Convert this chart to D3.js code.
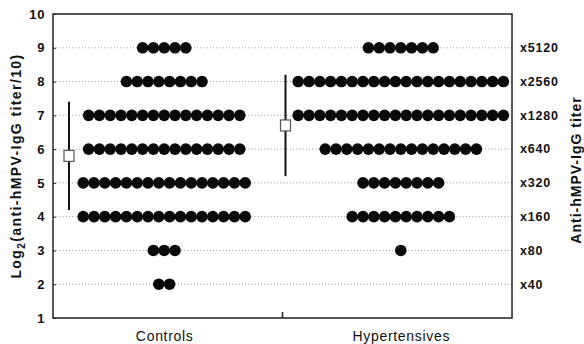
<!DOCTYPE html>
<html>
<head>
<meta charset="utf-8">
<script src="https://cdn.jsdelivr.net/npm/d3@7"></script>
<style>
  body { margin: 0; background: #fff; }
  svg text { font-family: "Liberation Sans", Arial, sans-serif; fill: #111; }
</style>
</head>
<body>
<div id="chart"></div>
<script>
// values
const groups = ['Controls', 'Hypertensives'];
const levels = [2, 3, 4, 5, 6, 7, 8, 9];                 // log2(titer/10)
const controlsCounts = [2, 3, 16, 16, 15, 15, 8, 5];
const hypertensivesCounts = [0, 1, 10, 8, 15, 20, 20, 7];
const titerLabels = ['x40', 'x80', 'x160', 'x320', 'x640', 'x1280', 'x2560', 'x5120'];
const groupMeans = [5.8, 6.7];
const groupSDs = [1.6, 1.5];
const yTicks = [1, 2, 3, 4, 5, 6, 7, 8, 9, 10];

const width = 584, height = 344;
const margin = { top: 14, right: 72, bottom: 26, left: 53 };
const x0 = margin.left, x1 = width - margin.right, y0 = margin.top, y1 = height - margin.bottom;

const svg = d3.select('#chart').append('svg')
  .attr('width', width)
  .attr('height', height);

const y = d3.scaleLinear().domain([1, 10]).range([y1, y0]);
const x = d3.scalePoint().domain(groups).range([x0, x1]).padding(0.47);

const dotR = 5.8, dotStep = 10.8;
const counts = [controlsCounts, hypertensivesCounts];
const markerOffset = [16, 3];  // mean/SD marker sits near left edge of each half

// dotted guide lines
svg.append('g').selectAll('line')
  .data(levels)
  .join('line')
  .attr('x1', x0).attr('x2', x1)
  .attr('y1', d => y(d)).attr('y2', d => y(d))
  .attr('stroke', '#999')
  .attr('stroke-width', 1)
  .attr('stroke-dasharray', '1,2.2');

// dots, one per subject, centred on the group position
let dots = [];
groups.forEach((g, gi) => {
  levels.forEach((lv, li) => {
    const n = counts[gi][li];
    for (let k = 0; k < n; k++) {
      dots.push({ g: g, lv: lv, off: (k - (n - 1) / 2) * dotStep });
    }
  });
});

svg.append('g').selectAll('circle')
  .data(dots)
  .join('circle')
  .attr('cx', d => x(d.g) + d.off)
  .attr('cy', d => y(d.lv))
  .attr('r', dotR)
  .attr('fill', '#0a0a0a');

// mean +/- SD markers
const halfW = (x1 - x0) / 2;
groups.forEach((g, gi) => {
  const mx = x0 + gi * halfW + markerOffset[gi];
  svg.append('line')
    .attr('x1', mx).attr('x2', mx)
    .attr('y1', y(groupMeans[gi] + groupSDs[gi]))
    .attr('y2', y(groupMeans[gi] - groupSDs[gi]))
    .attr('stroke', '#111')
    .attr('stroke-width', 2);
  svg.append('rect')
    .attr('x', mx - 5).attr('y', y(groupMeans[gi]) - 5.5)
    .attr('width', 10).attr('height', 11)
    .attr('fill', '#fff')
    .attr('stroke', '#555')
    .attr('stroke-width', 1.2);
});

// frame
svg.append('rect')
  .attr('x', x0).attr('y', y0)
  .attr('width', x1 - x0).attr('height', y1 - y0)
  .attr('fill', 'none')
  .attr('stroke', '#222')
  .attr('stroke-width', 1.5);

// left axis
const yAxis = svg.append('g')
  .attr('transform', `translate(${x0},0)`)
  .call(d3.axisLeft(y).tickValues(yTicks).tickSize(-3).tickPadding(8).tickFormat(d3.format('d')));
yAxis.select('.domain').remove();
yAxis.selectAll('line').attr('stroke', '#222');
yAxis.selectAll('text')
  .attr('font-size', 13).attr('font-weight', 'bold')
  .style('letter-spacing', '0.6px').attr('fill', '#111');

// bottom axis (labels only, one tick between groups)
const xAxis = svg.append('g')
  .attr('transform', `translate(0,${y1})`)
  .call(d3.axisBottom(x).tickSize(0).tickPadding(13));
xAxis.select('.domain').remove();
xAxis.selectAll('text')
  .attr('font-size', 14)
  .style('letter-spacing', '0.7px').attr('fill', '#111');
svg.append('line')
  .attr('x1', x0 + halfW).attr('x2', x0 + halfW)
  .attr('y1', y1).attr('y2', y1 - 6)
  .attr('stroke', '#222').attr('stroke-width', 1.5);

// right-hand titer labels
svg.append('g').selectAll('text')
  .data(levels)
  .join('text')
  .attr('x', x1 + 8)
  .attr('y', d => y(d))
  .attr('dy', '0.35em')
  .attr('font-size', 12.5)
  .attr('font-weight', 'bold')
  .style('letter-spacing', '0.8px')
  .text((d, i) => titerLabels[i]);

// axis titles
const leftTitle = svg.append('text')
  .attr('transform', `translate(21,${(y0 + y1) / 2}) rotate(-90)`)
  .attr('text-anchor', 'middle')
  .attr('font-size', 14).attr('font-weight', 'bold')
  .style('letter-spacing', '1.4px');
leftTitle.append('tspan').text('Log');
leftTitle.append('tspan').text('2').attr('font-size', 10).attr('dy', 4);
leftTitle.append('tspan').text('(anti-hMPV-IgG titer/10)').attr('dy', -4);

svg.append('text')
  .attr('transform', `translate(581,170) rotate(-90)`)
  .attr('text-anchor', 'middle')
  .attr('font-size', 14).attr('font-weight', 'bold')
  .style('letter-spacing', '1px')
  .text('Anti-hMPV-IgG titer');
</script>
</body>
</html>
